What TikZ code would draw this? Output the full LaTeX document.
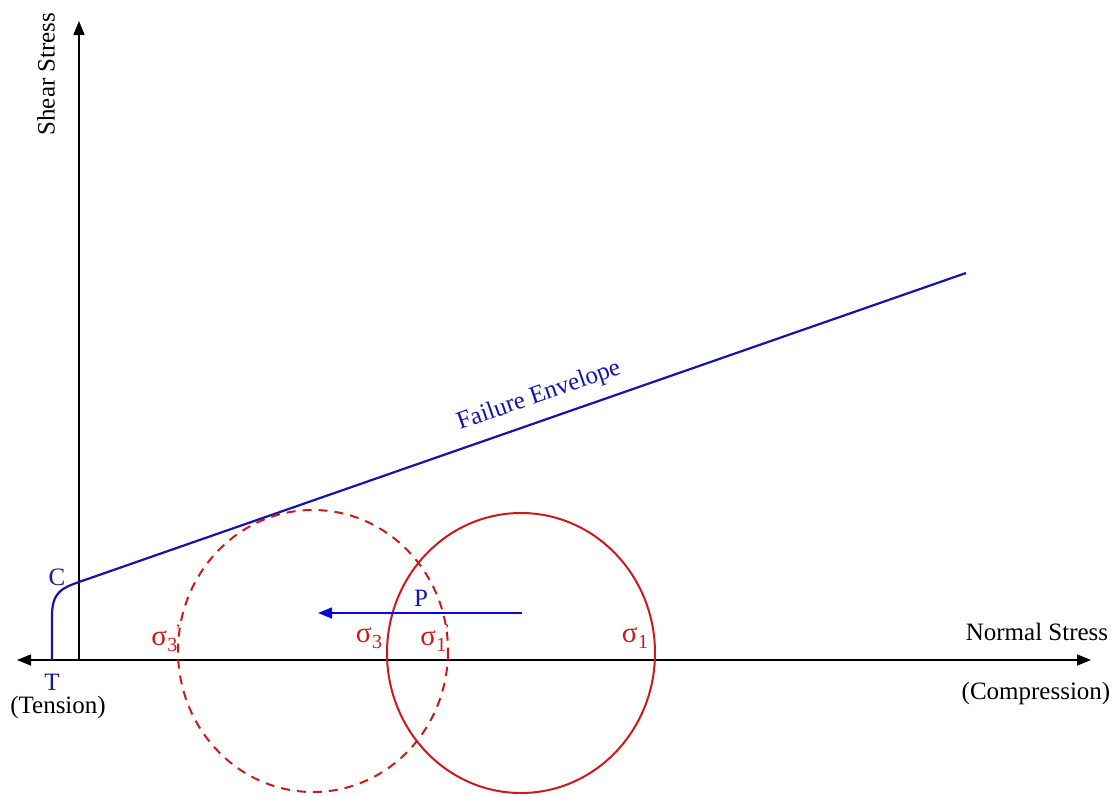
\documentclass[tikz,border=0pt]{standalone}
\usepackage{fontspec}
\setmainfont{Liberation Serif}
\usetikzlibrary{arrows.meta}
\definecolor{envblue}{RGB}{20,20,170}
\definecolor{arrblue}{RGB}{10,10,210}
\definecolor{circred}{RGB}{205,25,25}
\tikzset{
  axis/.style={black, line width=1.4pt},
  envline/.style={envblue, line width=2.2pt},
  mohr/.style={circred, line width=2pt},
  mohrdash/.style={circred, line width=2pt, dash pattern=on 9pt off 7pt},
  lbl/.style={font=\fontsize{25}{28}\selectfont, inner sep=0pt},
  bluelbl/.style={lbl, text=envblue},
  redlbl/.style={lbl, text=circred},
  tip/.style={-{Triangle[length=14pt,width=11pt]}},
}
\newcommand{\sig}[1]{{\fontsize{29}{30}\selectfont σ}\kern0.5pt\raisebox{-0.5ex}{\fontsize{20}{22}\selectfont #1}}
\newcommand{\prm}{\kern-2pt\raisebox{0.9ex}{\fontsize{16}{18}\selectfont '}}
\begin{document}
\begin{tikzpicture}[x=1pt,y=-1pt]
\useasboundingbox (0,0) rectangle (1114,796);
% axes
\coordinate (O) at (79,660);
\coordinate (ytop) at (79,21);
\coordinate (xleft) at (17,660);
\coordinate (xright) at (1091,660);
\draw[axis,tip] (O) -- (ytop);
\draw[axis,{Triangle[length=14pt,width=11pt]}-{Triangle[length=14pt,width=11pt]}] (xleft) -- (xright);
\node[lbl, rotate=90] (shear) at (46,74) {Shear Stress};
\node[lbl] (normal) at (1037,632) {Normal Stress};
\node[lbl] (comp) at (1036,693) {(Compression)};
\node[lbl] (tens) at (58,707) {(Tension)};
% failure envelope
\coordinate (T0) at (52,660);
\coordinate (C0) at (79,582);
\coordinate (E) at (966,273);
\draw[envline] (T0) -- (52,616) .. controls (52,592) and (62,588) .. (C0) -- (E);
\node[bluelbl] (C) at (57,577) {C};
\node[bluelbl] (T) at (52,682) {T};
\node[bluelbl, rotate=19.2] (fe) at (539,396) {Failure Envelope};
% Mohr circles
\draw[mohrdash] (313,651) ellipse [x radius=135, y radius=141];
\draw[mohr] (521,653) ellipse [x radius=134, y radius=140];
% shift arrow
\coordinate (Pa) at (522,613);
\coordinate (Pb) at (318,613);
\draw[arrblue, line width=1.5pt, tip] (Pa) -- (Pb);
\node[bluelbl] (P) at (421,598) {P};
% labels
\node[redlbl] (s3p) at (166,638) {\sig{3}\prm};
\node[redlbl] (s3) at (369,638) {\sig{3}};
\node[redlbl] (s1p) at (435,638) {\sig{1}\prm};
\node[redlbl] (s1) at (635,638) {\sig{1}};
\end{tikzpicture}
\end{document}
